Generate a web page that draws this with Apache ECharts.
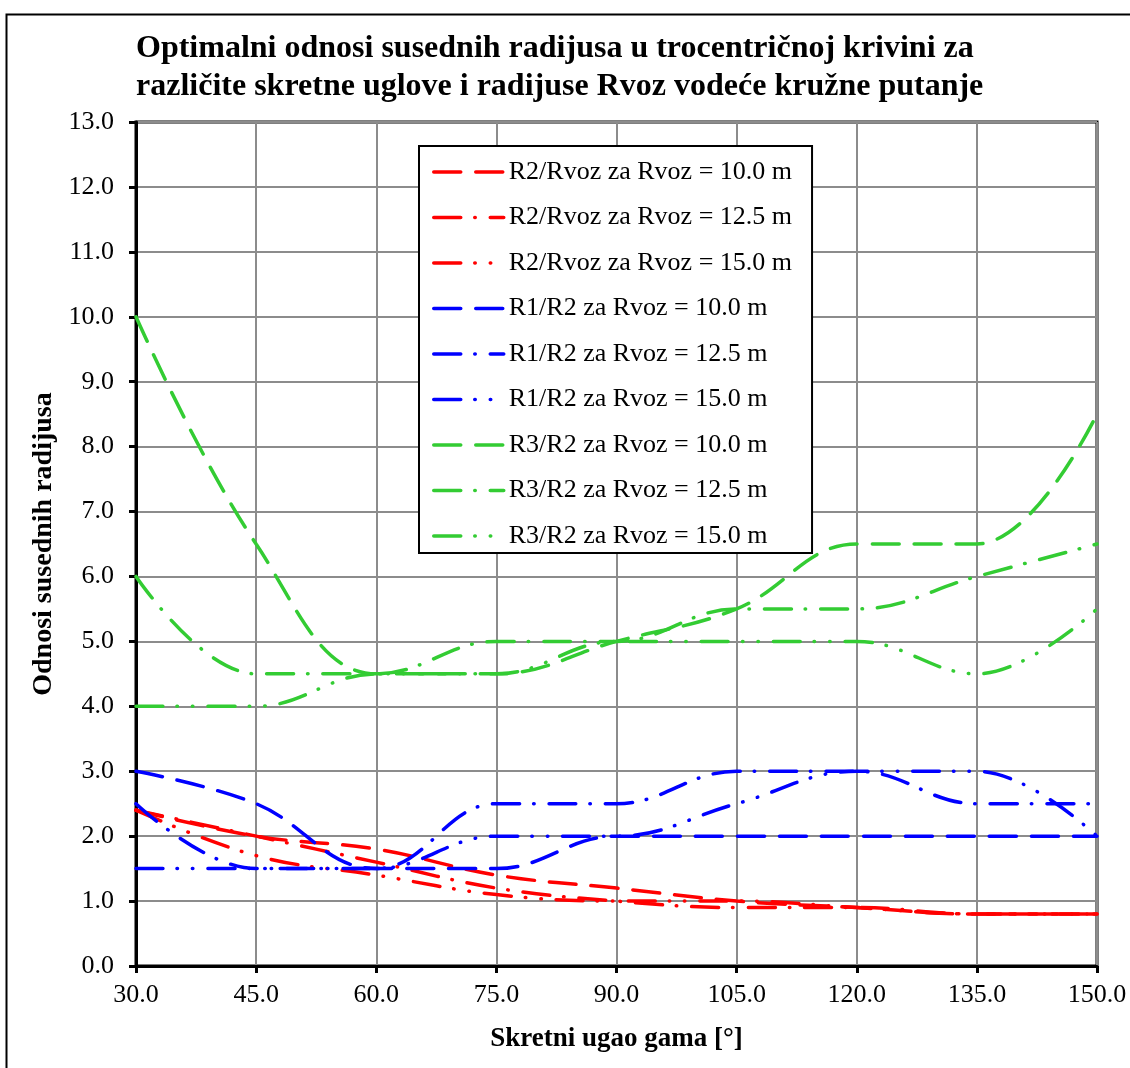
<!DOCTYPE html>
<html><head><meta charset="utf-8">
<script src="https://cdn.jsdelivr.net/npm/echarts@6/dist/echarts.min.js"></script>
<style>html,body{margin:0;padding:0;background:#fff}#c{width:1130px;height:1068px}</style>
</head><body><div id="c"></div>
<script>
// Skretni ugao gama [°]
const angles = [30, 45, 60, 75, 90, 105, 120, 135, 150];
// R2/Rvoz
const r2rvoz_10  = [2.4, 2.0, 1.8, 1.4, 1.2, 1.0, 0.9, 0.8, 0.8];
const r2rvoz_125 = [2.4, 2.0, 1.6, 1.2, 1.0, 0.9, 0.9, 0.8, 0.8];
const r2rvoz_15  = [2.4, 1.7, 1.4, 1.1, 1.0, 1.0, 0.9, 0.8, 0.8];
// R1/R2
const r1r2_10  = [3.0, 2.5, 1.5, 1.5, 2.0, 2.0, 2.0, 2.0, 2.0];
const r1r2_125 = [2.5, 1.5, 1.5, 2.5, 2.5, 3.0, 3.0, 2.5, 2.5];
const r1r2_15  = [1.5, 1.5, 1.5, 2.0, 2.0, 2.5, 3.0, 3.0, 2.0];
// R3/R2
const r3r2_10  = [10.0, 6.5, 4.5, 4.5, 5.0, 5.5, 6.5, 6.5, 8.5];
const r3r2_125 = [6.0, 4.5, 4.5, 5.0, 5.0, 5.5, 5.5, 6.0, 6.5];
const r3r2_15  = [4.0, 4.0, 4.5, 4.5, 5.0, 5.0, 5.0, 4.5, 5.5];

const seriesNames = [
  'R2/Rvoz za Rvoz = 10.0 m', 'R2/Rvoz za Rvoz = 12.5 m', 'R2/Rvoz za Rvoz = 15.0 m',
  'R1/R2 za Rvoz = 10.0 m', 'R1/R2 za Rvoz = 12.5 m', 'R1/R2 za Rvoz = 15.0 m',
  'R3/R2 za Rvoz = 10.0 m', 'R3/R2 za Rvoz = 12.5 m', 'R3/R2 za Rvoz = 15.0 m'
];
const seriesValues = [r2rvoz_10, r2rvoz_125, r2rvoz_15, r1r2_10, r1r2_125, r1r2_15, r3r2_10, r3r2_125, r3r2_15];
const yTicks = [0, 13, 1];
const xTicks = [30, 150, 15];

const RED = '#ff0000', BLUE = '#0000ff', GREEN = '#33cc33';
const colors = [RED, RED, RED, BLUE, BLUE, BLUE, GREEN, GREEN, GREEN];
const DASH = [27, 15];
const DASHDOT = [27, 14, 0.5, 15];
const DASHDOTDOT = [27, 14, 0.5, 15, 0.5, 15];
const dashes = [DASH, DASHDOT, DASHDOTDOT, DASH, DASHDOT, DASHDOTDOT, DASH, DASHDOT, DASHDOTDOT];
const FONT = '"Liberation Serif", "Times New Roman", serif';

const series = seriesNames.map((n, k) => ({
  name: n,
  type: 'line',
  smooth: 0.4,
  symbol: 'none',
  data: angles.map((a, i) => [a, seriesValues[k][i]]),
  itemStyle: { color: colors[k] },
  lineStyle: { color: colors[k], width: 3.5, type: dashes[k], cap: 'round' }
}));

const chart = echarts.init(document.getElementById('c'), null, { renderer: 'canvas' });
chart.setOption({
  animation: false,
  backgroundColor: '#fff',
  title: {
    text: 'Optimalni odnosi susednih radijusa u trocentričnoj krivini za\nrazličite skretne uglove i radijuse Rvoz vodeće kružne putanje',
    left: 136, top: 30, padding: 0,
    textStyle: { fontFamily: FONT, fontSize: 32, fontWeight: 'bold', color: '#000', lineHeight: 38 }
  },
  graphic: [{
    type: 'rect', left: 4, top: 12, z: -1, silent: true,
    shape: { width: 1200, height: 1200 },
    style: { fill: 'none', stroke: '#000', lineWidth: 2 }
  }],
  grid: { left: 136, right: 33, top: 122, bottom: 102, show: true, borderColor: '#000', borderWidth: 3, backgroundColor: 'transparent' },
  legend: {
    orient: 'vertical', left: 419, top: 146,
    itemWidth: 70, itemHeight: 22, itemGap: 19.5,
    padding: [13, 20, 4, 13],
    borderColor: '#000', borderWidth: 2, backgroundColor: '#fff',
    itemStyle: { opacity: 0 },
    lineStyle: { width: 3.5, cap: 'round' },
    textStyle: { fontFamily: FONT, fontSize: 26, color: '#000' },
    data: seriesNames
  },
  xAxis: {
    type: 'value', min: xTicks[0], max: xTicks[1], interval: xTicks[2],
    name: 'Skretni ugao gama [°]', nameLocation: 'middle', nameGap: 60,
    nameTextStyle: { fontFamily: FONT, fontSize: 27, fontWeight: 'bold', color: '#000' },
    axisLine: { show: true, onZero: false, lineStyle: { color: '#000', width: 3 } },
    axisTick: { show: true, length: 7, lineStyle: { color: '#000', width: 3 } },
    axisLabel: { formatter: v => v.toFixed(1), fontFamily: FONT, fontSize: 26, color: '#000', margin: 16 },
    splitLine: { show: true, lineStyle: { color: '#8c8c8c', width: 2 } }
  },
  yAxis: {
    type: 'value', min: yTicks[0], max: yTicks[1], interval: yTicks[2],
    name: 'Odnosi susednih radijusa', nameLocation: 'middle', nameGap: 78,
    nameTextStyle: { fontFamily: FONT, fontSize: 28, fontWeight: 'bold', color: '#000' },
    axisLine: { show: true, lineStyle: { color: '#000', width: 3 } },
    axisTick: { show: true, length: 7, lineStyle: { color: '#000', width: 3 } },
    axisLabel: { formatter: v => v.toFixed(1), fontFamily: FONT, fontSize: 26, color: '#000', margin: 22 },
    splitLine: { show: true, lineStyle: { color: '#8c8c8c', width: 2 } }
  },
  series: series
});
</script></body></html>
